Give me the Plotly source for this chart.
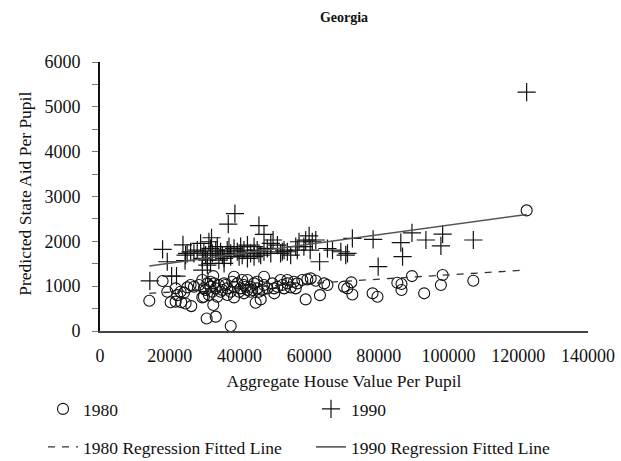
import plotly.graph_objects as go

# ---- data ----
x_1990 = [122400, 38700, 36800, 45600, 47050, 32000, 49650, 23800, 60000, 61900, 72400, 78350,
          86300, 89500, 93500, 98300, 97800, 107100, 86800, 79800, 71000, 65250, 63000, 60300,
          17950, 19300, 21950, 14300, 20550, 29350, 30800, 24400, 25000,
          26000, 27900, 29800, 31700, 33200, 34600, 36500, 37500, 39400, 41300, 43200, 45100,
          47050, 49000, 51800, 53750, 54700, 56600, 58500, 29350, 30800, 34100, 35600, 37500,
          40800, 42300, 44200, 46100, 31700, 35600, 30300, 33650, 37000, 40350, 42300, 44200,
          49000, 50900, 52800, 56150, 57100, 59000, 60900, 69100, 70500, 66700, 28860, 31250,
          26950, 38450, 45600, 32200, 35100, 39900, 48000, 52300, 24550]
y_1990 = [5330, 2620, 2385, 2350, 2155, 2080, 2030, 1920, 2120, 2030, 2065, 2045,
          1970, 2190, 2030, 2160, 1900, 2030, 1660, 1435, 1730, 1840, 1545, 1805,
          1820, 1545, 1225, 1120, 1225, 1360, 1470, 1570, 1730,
          1768, 1805, 1768, 1843, 1805, 1768, 1805, 1731, 1768, 1805, 1731, 1805,
          1768, 1731, 1731, 1768, 1694, 1805, 1880, 1620, 1583, 1583, 1620, 1657,
          1694, 1620, 1657, 1694, 1508, 1508, 1694, 1880, 1880, 1880, 1917, 1880,
          1954, 1917, 1805, 1880, 1991, 2028, 1991, 1768, 1694, 1805, 1954, 1991,
          1731, 1843, 1731, 1731, 1694, 1657, 1843, 1768, 1694]

x_1980 = [122400, 14150, 17950, 19300, 20250, 21700, 23300, 24550, 26200, 22150, 24100, 26000,
          30600, 33200, 37500, 32500, 29350, 32500, 38450, 44650, 46100, 47050, 50000, 59000,
          63100, 65250, 70000, 70950, 72100, 72400, 78200, 79600, 85300, 86500, 86500, 89500,
          93000, 97800, 98300, 107100,
          25030, 26950, 28400, 29800, 30800, 31700, 32200, 33200, 34100, 35100, 35600, 36500,
          37500, 38450, 39400, 40350, 41300, 42300, 43200, 44200, 45100, 47050, 48000, 49450,
          50900, 52300, 53750, 54700, 56150, 56600, 58050, 59500, 60450, 61900, 64300,
          29800, 31250, 33650, 36500, 38450, 41300, 43200, 45600, 29350, 31700, 40800, 42300,
          45100, 51800, 53750, 55650,
          30300, 32700, 34600, 36000, 37950, 39900, 41800, 43700, 46550, 49950, 52800, 21700, 23100]
y_1980 = [2690, 675, 1115, 875, 640, 655, 640, 615, 555, 800, 855, 1025,
          280, 320, 110, 580, 750, 1225, 1210, 630, 705, 1210, 840, 705,
          800, 1025, 990, 950, 1085, 815, 840, 765, 1075, 1050, 915, 1225,
          840, 1025, 1250, 1120,
          973, 988, 1025, 951, 1062, 988, 877, 951, 1025, 914, 1062, 951,
          877, 988, 1062, 951, 1025, 914, 988, 1062, 951, 1025, 951, 1062,
          988, 1025, 1062, 973, 951, 1062, 1137, 1152, 1174, 1122, 1062,
          765, 802, 765, 802, 750, 840, 877, 877, 1137, 1100, 1137, 1137,
          1100, 1137, 1137, 1100,
          914, 1062, 877, 1025, 1100, 877, 988, 914, 914, 951, 951, 951, 877]

fit_x = [14140, 122400]
fit_1980 = [840, 1360]
fit_1990 = [1450, 2600]

FONT = "Liberation Serif"
W, H = 621, 461
ML, MR, MT, MB = 100, 33, 62, 130


def leg(px, py):
    return dict(xref="container", yref="container", x=px / W, y=1 - py / H,
                xanchor="left", yanchor="middle", bgcolor="rgba(0,0,0,0)",
                font=dict(size=17.5, family=FONT, color="#111"))


fig = go.Figure()
fig.add_trace(go.Scatter(
    x=x_1980, y=y_1980, mode="markers", name="1980", legend="legend",
    marker=dict(symbol="circle-open", size=11, color="#111", line=dict(width=1.1)),
))
fig.add_trace(go.Scatter(
    x=x_1990, y=y_1990, mode="markers", name="1990", legend="legend2",
    marker=dict(symbol="cross-thin-open", size=13, color="#111", line=dict(width=1.2)),
))
fig.add_trace(go.Scatter(
    x=fit_x, y=fit_1980, mode="lines", name="1980 Regression Fitted Line", legend="legend3",
    line=dict(color="#333", width=1.3, dash="7px,7px"),
))
fig.add_trace(go.Scatter(
    x=fit_x, y=fit_1990, mode="lines", name="1990 Regression Fitted Line", legend="legend4",
    line=dict(color="#555", width=1.6),
))

plot_w = W - ML - MR
fig.update_layout(
    width=W, height=H,
    margin=dict(l=ML, r=MR, t=MT, b=MB, autoexpand=False),
    paper_bgcolor="white", plot_bgcolor="white",
    font=dict(family=FONT, size=18, color="#111"),
    title=dict(text="<b>Georgia</b>", x=0.5, xref="paper", y=1 - 17 / H, yref="container",
               yanchor="middle", font=dict(size=14, family=FONT)),
    xaxis=dict(range=[0, 140000], dtick=20000, tickformat="d", showgrid=False, zeroline=False,
               showline=True, linecolor="#444", linewidth=2, ticks="", automargin=True,
               tickfont=dict(size=18),
               title=dict(text="Aggregate House Value Per Pupil", standoff=10, font=dict(size=17.5)),
               ticklabelstandoff=7),
    yaxis=dict(range=[0, 6000], dtick=1000, tickformat="d", showgrid=False, zeroline=False,
               showline=True, linecolor="#111", linewidth=2, ticks="outside", ticklen=6,
               tickcolor="#777", automargin=False, tickfont=dict(size=18),
               minor=dict(ticks="outside", dtick=500, ticklen=6, tickcolor="#777"),
               ticklabelstandoff=8),
    annotations=[dict(text="Predicted State Aid Per Pupil", textangle=-90,
                      xref="paper", yref="paper", x=(25 - ML) / plot_w, y=0.51,
                      xanchor="center", yanchor="middle", showarrow=False,
                      font=dict(size=17.5, family=FONT, color="#111"))],
    legend=leg(43, 409),
    legend2=leg(311, 409),
    legend3=leg(43, 447),
    legend4=leg(311, 447),
    showlegend=True,
)

fig.write_html("out.html", config={"displayModeBar": False},
               post_script="document.body.style.margin='0';document.body.style.overflow='hidden';")
